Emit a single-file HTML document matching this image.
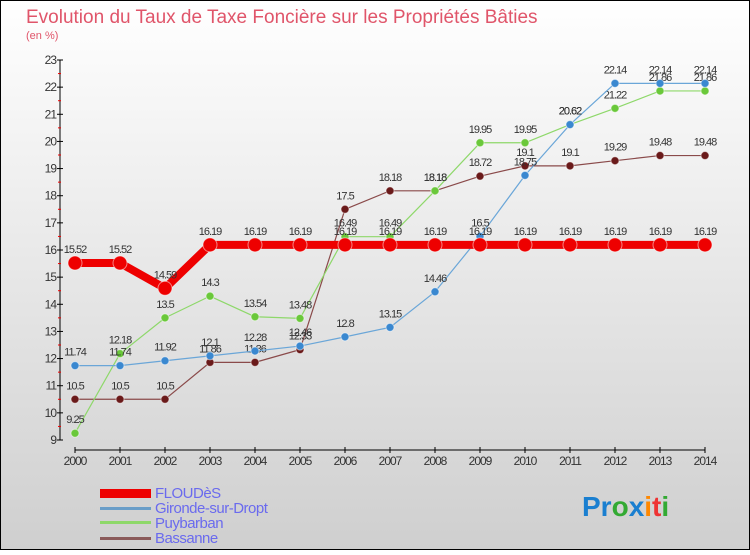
<!DOCTYPE html>
<html><head><meta charset="utf-8"><style>
body{margin:0}
#c{width:750px;height:550px;position:relative;font-family:"Liberation Sans",sans-serif}
</style></head><body>
<div id="c">
<svg id="s" width="750" height="550" xmlns="http://www.w3.org/2000/svg">
<defs><linearGradient id="bg" x1="0" y1="0" x2="0" y2="1"><stop offset="0" stop-color="#ffffff"/><stop offset="1" stop-color="#cfcfcf"/></linearGradient></defs>
<rect x="0.5" y="0.5" width="749" height="549" fill="url(#bg)" stroke="#000"/>
<text x="26" y="23" font-size="19" fill="#e0556a">Evolution du Taux de Taxe Foncière sur les Propriétés Bâties</text>
<text x="26" y="39" font-size="11" fill="#e0556a">(en %)</text>
<g id="axes"></g><g id="series"></g>
<g>
<rect x="100" y="489" width="51" height="9" fill="#e00"/>
<text x="155" y="498" font-size="15" fill="#6a6aee" letter-spacing="-0.5">FLOUDèS</text>
<rect x="100" y="507" width="51" height="3" fill="#6a9ec8"/>
<text x="155" y="513" font-size="15" fill="#6a6aee" letter-spacing="-0.5">Gironde-sur-Dropt</text>
<rect x="100" y="521" width="51" height="3" fill="#8ed86a"/>
<text x="155" y="528" font-size="15" fill="#6a6aee" letter-spacing="-0.5">Puybarban</text>
<rect x="100" y="537" width="51" height="3" fill="#8a5a5a"/>
<text x="155" y="543" font-size="15" fill="#6a6aee" letter-spacing="-0.5">Bassanne</text>
</g>
<text x="582" y="516" font-size="28" font-weight="bold"><tspan fill="#1a7fd0">Pr</tspan><tspan fill="#3a3">o</tspan><tspan fill="#1a7fd0">x</tspan><tspan fill="#f80">i</tspan><tspan fill="#e33">t</tspan><tspan fill="#3a3">i</tspan></text>
</svg>
</div>
<script>
const years=[2000,2001,2002,2003,2004,2005,2006,2007,2008,2009,2010,2011,2012,2013,2014];
const floudes=[15.52,15.52,14.59,16.19,16.19,16.19,16.19,16.19,16.19,16.19,16.19,16.19,16.19,16.19,16.19];
const gironde=[11.74,11.74,11.92,12.1,12.28,12.46,12.8,13.15,14.46,16.5,18.75,20.62,22.14,22.14,22.14];
const puybarban=[9.25,12.18,13.5,14.3,13.54,13.48,16.49,16.49,18.18,19.95,19.95,20.62,21.22,21.86,21.86];
const bassanne=[10.5,10.5,10.5,11.86,11.86,12.33,17.5,18.18,18.18,18.72,19.1,19.1,19.29,19.48,19.48];
const yTicks=[9,10,11,12,13,14,15,16,17,18,19,20,21,22,23];
const NS="http://www.w3.org/2000/svg";
const X=i=>75+i*45, Y=v=>440-(v-9)*380/14;
function mk(t,a,p){const e=document.createElementNS(NS,t);for(const k in a)e.setAttribute(k,a[k]);p.appendChild(e);return e;}
const ax=document.getElementById('axes');
let l=mk('line',{x1:60,y1:60,x2:60,y2:440,stroke:'#000'},ax);


l=mk('line',{x1:75,y1:450,x2:705,y2:450,stroke:'#000'},ax);


yTicks.forEach(v=>{
 mk('line',{x1:57,y1:Y(v),x2:63,y2:Y(v),stroke:'#000'},ax);
 if(v<23)mk('line',{x1:58,y1:Y(v+0.5),x2:61,y2:Y(v+0.5),stroke:'#e00'},ax);
 const t=mk('text',{x:56,y:Y(v)+4,'font-size':12,fill:'#333','text-anchor':'end','letter-spacing':'-1'},ax);t.textContent=v;
 
 
});
years.forEach((y,i)=>{
 mk('line',{x1:X(i),y1:447,x2:X(i),y2:453,stroke:'#000'},ax);
 const t=mk('text',{x:X(i),y:465,'font-size':12,fill:'#333','text-anchor':'middle','letter-spacing':'-1'},ax);t.textContent=y;
 
 
});
const sg=document.getElementById('series');
function draw(vals,name,col,fill,w,r){
 const g=mk('g',{},sg);
 
 
 mk('polyline',{points:vals.map((v,i)=>X(i)+','+Y(v)).join(' '),fill:'none',stroke:col,'stroke-width':w,'stroke-linejoin':'round'},g);
 vals.forEach((v,i)=>{
  const c=mk('circle',{cx:X(i),cy:Y(v),r:r,fill:fill,stroke:'#fff','stroke-opacity':0.5},g);
  
  
  const t=mk('text',{x:X(i),y:Y(v)-10,'font-size':11,fill:'#333','text-anchor':'middle','letter-spacing':'-1'},g);t.textContent=v;
 });
}
draw(bassanne,'bassanne','#8a4a4a','#6a1a1a',1.2,4);
draw(puybarban,'puybarban','#8ed86a','#6ac83a',1.2,4);
draw(gironde,'gironde','#6aa6d8','#3a88d0',1.2,4);
draw(floudes,'floudes','#e00','#e00',8,7);
</script>
</body></html>
